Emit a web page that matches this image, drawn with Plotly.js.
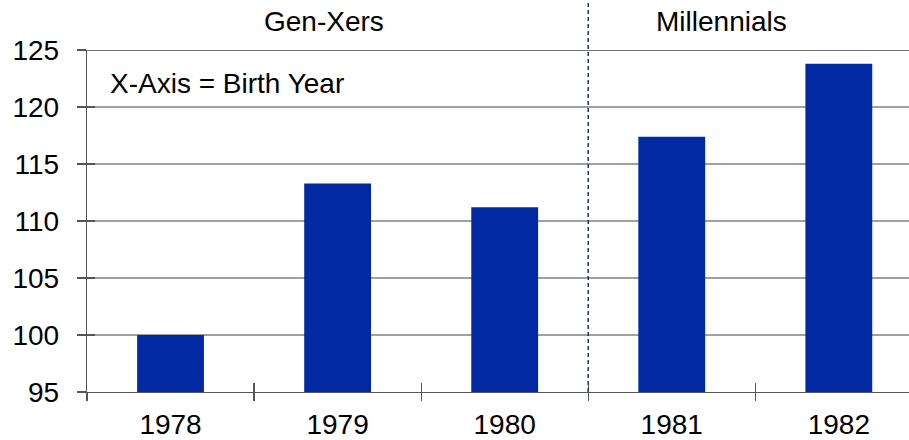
<!DOCTYPE html>
<html><head><meta charset="utf-8">
<script src="https://cdn.plot.ly/plotly-3.0.1.min.js"></script>
<style>html,body{margin:0;padding:0;background:#fff}</style>
</head><body>
<div id="chart" style="width:909px;height:440px"></div>
<script>
const years = ['1978', '1979', '1980', '1981', '1982'];
const values = [100, 113.3, 111.2, 117.4, 123.8];
const yTicks = [95, 100, 105, 110, 115, 120, 125];
const groupLabels = ['Gen-Xers', 'Millennials'];
const firstMillennial = '1981';
const noteText = 'X-Axis = Birth Year';

const boundary = years.indexOf(firstMillennial) - 0.5;
const font = {family: 'Liberation Sans, Arial, sans-serif', color: '#000'};
const FS = 28;

const data = [{
  type: 'bar', x: years, y: values, width: 0.4,
  marker: {color: '#0029a3', line: {width: 0}},
  hoverinfo: 'skip'
}, {
  type: 'scatter', x: years, y: values, xaxis: 'x2', yaxis: 'y2',
  mode: 'markers', marker: {opacity: 0}, hoverinfo: 'skip'
}];

const layout = {
  width: 909, height: 440,
  margin: {l: 87, r: 0, t: 50, b: 48, pad: 0},
  paper_bgcolor: '#fff', plot_bgcolor: '#fff',
  showlegend: false,
  font: Object.assign({size: FS}, font),
  xaxis: {
    type: 'category', range: [-0.5, 4.42],
    tickson: 'boundaries', ticks: 'outside', ticklen: 8, tickcolor: '#555', tickwidth: 1.3,
    showline: true, linecolor: '#555', linewidth: 1.3,
    showgrid: false, zeroline: false,
    tickfont: Object.assign({size: FS}, font), ticklabelstandoff: 7
  },
  xaxis2: {
    type: 'category', overlaying: 'x', matches: 'x', side: 'bottom', anchor: 'y',
    tickson: 'boundaries', ticks: 'inside', ticklen: 9, tickcolor: '#555', tickwidth: 1.3,
    showticklabels: false, showgrid: false, showline: false, zeroline: false
  },
  yaxis: {
    range: [95, 125], tickvals: yTicks, ticktext: yTicks.map(String),
    ticks: 'outside', ticklen: 9, tickcolor: '#555', tickwidth: 1.3,
    showline: true, linecolor: '#555', linewidth: 1.3,
    showgrid: true, gridcolor: '#a0a0a0', gridwidth: 1.3, zeroline: false,
    tickfont: Object.assign({size: FS}, font), ticklabelstandoff: 12
  },
  yaxis2: {
    range: [95, 125], overlaying: 'y', anchor: 'x', side: 'left', tickvals: yTicks,
    ticks: 'inside', ticklen: 8, tickcolor: '#555', tickwidth: 1.3,
    showticklabels: false, showgrid: false, showline: false, zeroline: false
  },
  shapes: [
    {type: 'line', xref: 'x', yref: 'paper', x0: boundary, x1: boundary, y0: 0, y1: 1.15,
     line: {color: '#1f3466', width: 1.5, dash: '4px,3px'}},
    {type: 'line', xref: 'paper', yref: 'y', x0: 0, x1: 1, y0: 125, y1: 125,
     line: {color: '#444', width: 1.5}}
  ],
  annotations: [
    {text: groupLabels[0], xref: 'paper', yref: 'paper', x: 0.288, y: 1.082,
     xanchor: 'center', yanchor: 'middle', showarrow: false, font: Object.assign({size: FS}, font)},
    {text: groupLabels[1], xref: 'paper', yref: 'paper', x: 0.7725, y: 1.082,
     xanchor: 'center', yanchor: 'middle', showarrow: false, font: Object.assign({size: FS}, font)},
    {text: noteText, xref: 'paper', yref: 'paper', x: 0.0255, y: 0.9006,
     xanchor: 'left', yanchor: 'middle', showarrow: false, font: Object.assign({size: FS}, font)}
  ]
};

Plotly.newPlot('chart', data, layout, {staticPlot: true, displayModeBar: false});
</script>
</body></html>
